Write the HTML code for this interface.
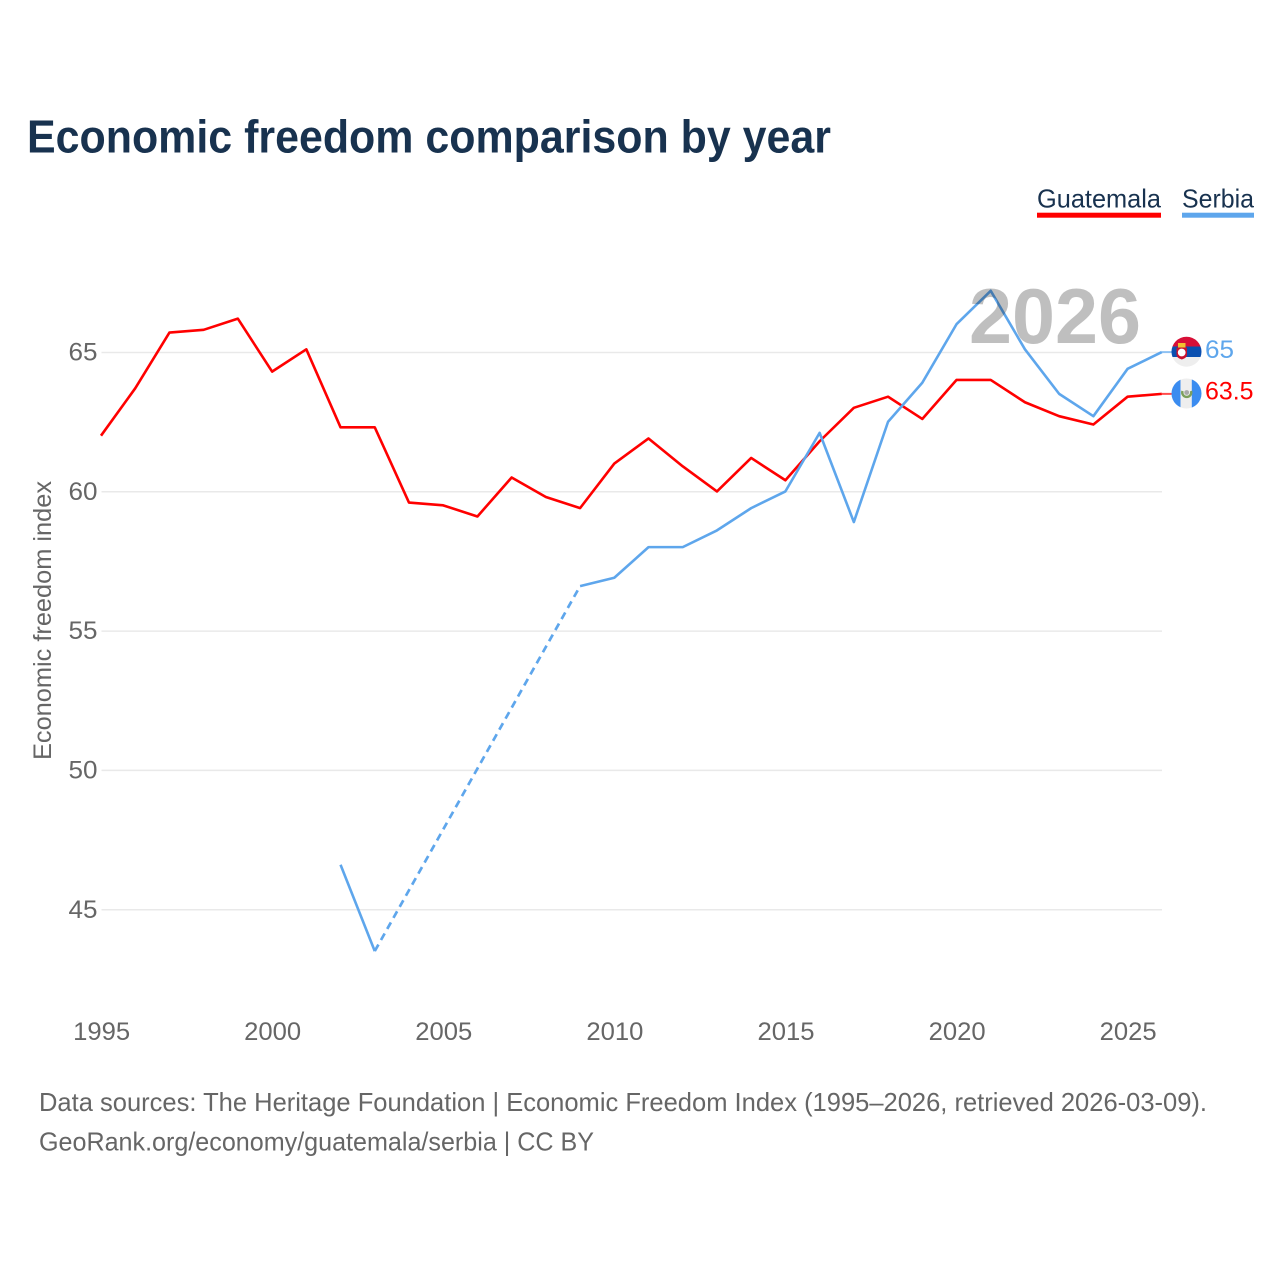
<!DOCTYPE html>
<html lang="en">
<head>
<meta charset="utf-8">
<title>Economic freedom comparison by year</title>
<style>
html,body{margin:0;padding:0;background:#fff;}
svg{display:block;font-family:"Liberation Sans",sans-serif;}
</style>
</head>
<body>
<svg id="chart" xmlns="http://www.w3.org/2000/svg" width="1280" height="1280" viewBox="0 0 1280 1280">
  <rect width="1280" height="1280" fill="#fff"/>
  <text x="27" y="152.5" font-size="46" font-weight="bold" fill="#18324f" textLength="804" lengthAdjust="spacingAndGlyphs">Economic freedom comparison by year</text>

  <g>
    <text x="1037" y="207.5" font-size="26" fill="#18324f" textLength="124" lengthAdjust="spacingAndGlyphs">Guatemala</text>
    <rect x="1037" y="212.7" width="124" height="5" fill="#ff0000"/>
  </g>
  <g>
    <text x="1182" y="207.5" font-size="26" fill="#18324f" textLength="72" lengthAdjust="spacingAndGlyphs">Serbia</text>
    <rect x="1182" y="212.7" width="72" height="5" fill="#5ea6ec"/>
  </g>

  <g id="grid"></g>
  <g id="yticks"></g>
  <g id="xticks"></g>
  <text transform="translate(51,760) rotate(-90)" font-size="25" fill="#666" textLength="279" lengthAdjust="spacingAndGlyphs">Economic freedom index</text>
  <g id="series"></g>

  <text x="969" y="343" font-size="78" font-weight="bold" fill="#000" fill-opacity="0.25" textLength="172" lengthAdjust="spacingAndGlyphs">2026</text>

  <defs>
    <clipPath id="flag-clip-rs"><circle cx="1186.5" cy="351.7" r="15"/></clipPath>
    <clipPath id="flag-clip-gt"><circle cx="1186.5" cy="393.5" r="15"/></clipPath>
  </defs>
  <g id="flag-serbia" clip-path="url(#flag-clip-rs)">
    <rect x="1171" y="336" width="31" height="10.5" fill="#d80f37"/>
    <rect x="1171" y="346.5" width="31" height="10.5" fill="#0a4fb0"/>
    <rect x="1171" y="357" width="31" height="11" fill="#eeeeee"/>
    <rect x="1178" y="343" width="7.5" height="4.5" fill="#f2c230"/>
    <path d="M1176.5 347.5h10.5v7q0 3.5-5.2 5q-5.3-1.500-5.300-5z" fill="#c8102e"/>
    <circle cx="1181.700" cy="352.500" r="3.900" fill="#fff"/>
  </g>
  <g id="flag-guatemala" clip-path="url(#flag-clip-gt)">
    <rect x="1171" y="378" width="31" height="31" fill="#eeeeee"/>
    <rect x="1171" y="378" width="9.500" height="31" fill="#3b8cf0"/>
    <rect x="1191.800" y="378" width="10" height="31" fill="#3b8cf0"/>
    <path d="M1182.500 391a4.500 4.500 0 1 0 8.500 0" fill="none" stroke="#7c9f5c" stroke-width="2.400"/>
    <circle cx="1186.700" cy="392.500" r="2.400" fill="#a8a8a8"/>
  </g>

  <text x="1205" y="358" font-size="25" fill="#5ea6ec" textLength="29" lengthAdjust="spacingAndGlyphs">65</text>
  <text x="1205" y="399.500" font-size="25" fill="#ff0000" textLength="48.500" lengthAdjust="spacingAndGlyphs">63.5</text>

  <text x="39" y="1111" font-size="26" fill="#666" textLength="1168" lengthAdjust="spacingAndGlyphs">Data sources: The Heritage Foundation | Economic Freedom Index (1995–2026, retrieved 2026-03-09).</text>
  <text x="39" y="1150.500" font-size="26" fill="#666" textLength="555" lengthAdjust="spacingAndGlyphs">GeoRank.org/economy/guatemala/serbia | CC BY</text>
</svg>
<script>
const years = [1995,1996,1997,1998,1999,2000,2001,2002,2003,2004,2005,2006,2007,2008,2009,2010,2011,2012,2013,2014,2015,2016,2017,2018,2019,2020,2021,2022,2023,2024,2025,2026];
const guatemalaValues = [62,63.7,65.7,65.8,66.2,64.3,65.1,62.3,62.3,59.6,59.5,59.1,60.5,59.8,59.4,61,61.9,60.9,60,61.2,60.4,61.8,63,63.4,62.6,64,64,63.2,62.7,62.4,63.4,63.5];
const serbiaValues = [null,null,null,null,null,null,null,46.6,43.5,null,null,null,null,null,56.6,56.9,58,58,58.6,59.4,60,62.1,58.9,62.5,63.9,66,67.2,65.1,63.5,62.7,64.4,65];
const yTickValues = [45,50,55,60,65];
const xTickValues = [1995,2000,2005,2010,2015,2020,2025];

const SVG_NS = 'http://www.w3.org/2000/svg';
function xScale(year){ return 101 + (year - 1995) * 34.22; }
function yScale(value){ return 352.1 + (65 - value) * 27.86; }

function make(tag, attrs, parent){
  const el = document.createElementNS(SVG_NS, tag);
  for (const k in attrs) el.setAttribute(k, attrs[k]);
  parent.appendChild(el);
  return el;
}

const gridGroup = document.getElementById('grid');
const yGroup = document.getElementById('yticks');
const xGroup = document.getElementById('xticks');
const seriesGroup = document.getElementById('series');

yTickValues.forEach(function(v){
  const line = make('line', {x1:101.5, x2:1162, y1:yScale(v)+0.4, y2:yScale(v)+0.4, stroke:'#e9e9e9', 'stroke-width':1.5}, gridGroup);
  
  
  const label = make('text', {x:97.5, y:yScale(v)+8.5, 'font-size':25, fill:'#666', 'text-anchor':'end', textLength:29, lengthAdjust:'spacingAndGlyphs'}, yGroup);
  
  
  label.textContent = v;
});

xTickValues.forEach(function(y){
  const label = make('text', {x:xScale(y)+0.6, y:1040, 'font-size':25, fill:'#666', 'text-anchor':'middle', textLength:57, lengthAdjust:'spacingAndGlyphs'}, xGroup);
  
  
  label.textContent = y;
});

function drawSeries(values, color, name){
  let solid = '', dashed = '', prev = null;
  values.forEach(function(v, i){
    if (v === null) return;
    const pt = xScale(years[i]).toFixed(2) + ' ' + yScale(v).toFixed(2);
    if (prev === null) {
      solid += 'M' + pt;
    } else if (prev.i === i - 1) {
      solid += (solid.endsWith(prev.pt) ? 'L' : 'M' + prev.pt + 'L') + pt;
    } else {
      dashed += 'M' + prev.pt + 'L' + pt;
    }
    prev = {i:i, pt:pt};
  });
  const path = make('path', {d:solid, fill:'none', stroke:color, 'stroke-width':2.6, 'stroke-linejoin':'round'}, seriesGroup);
  
  
  if (dashed) {
    const dash = make('path', {d:dashed, fill:'none', stroke:color, 'stroke-width':2.7, 'stroke-dasharray':'7.5 5.2'}, seriesGroup);
    
    
  }
  const last = values[values.length - 1];
  const connector = make('line', {x1:xScale(years[years.length-1]), x2:1172, y1:yScale(last), y2:yScale(last), stroke:color, 'stroke-width':2, 'stroke-opacity':0.7}, seriesGroup);
  
  
}

drawSeries(guatemalaValues, '#ff0000', 'guatemala');
drawSeries(serbiaValues, '#5ea6ec', 'serbia');
</script>
</body>
</html>
